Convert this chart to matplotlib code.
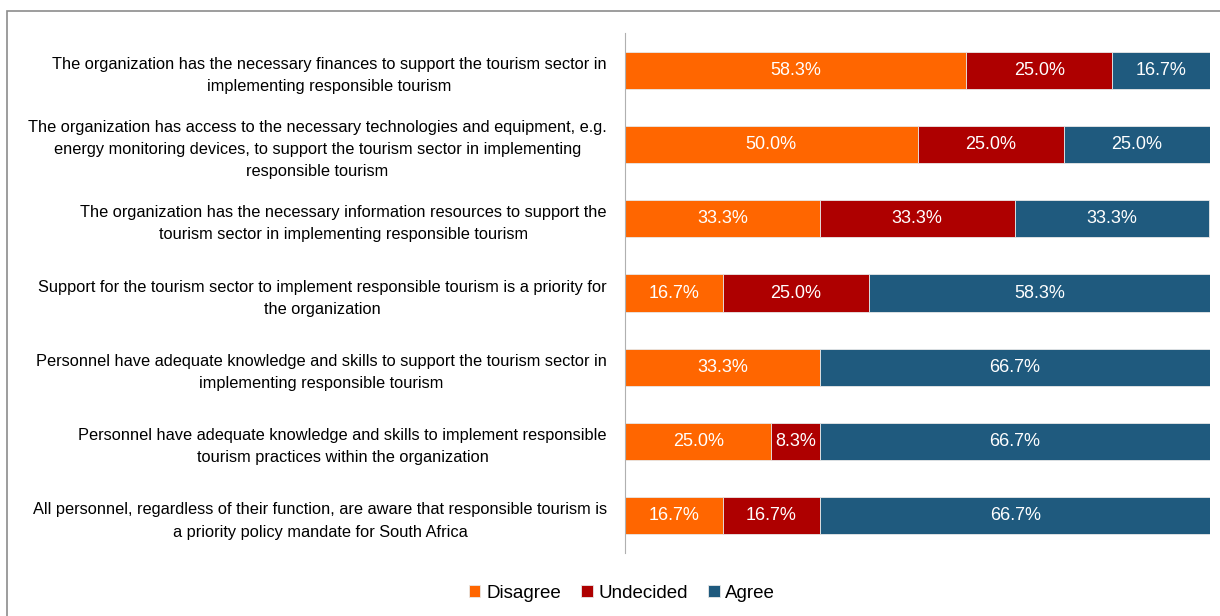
import numpy as np
import matplotlib.pyplot as plt
from matplotlib.patches import Rectangle

plt.rcParams['font.family'] = ['Liberation Sans', 'DejaVu Sans']

# Statements (top to bottom)
statements = [
    "The organization has the necessary finances to support the tourism sector in\nimplementing responsible tourism",
    "The organization has access to the necessary technologies and equipment, e.g.\nenergy monitoring devices, to support the tourism sector in implementing\nresponsible tourism",
    "The organization has the necessary information resources to support the\ntourism sector in implementing responsible tourism",
    "Support for the tourism sector to implement responsible tourism is a priority for\nthe organization",
    "Personnel have adequate knowledge and skills to support the tourism sector in\nimplementing responsible tourism",
    "Personnel have adequate knowledge and skills to implement responsible\ntourism practices within the organization",
    "All personnel, regardless of their function, are aware that responsible tourism is\na priority policy mandate for South Africa",
]

disagree = [58.3, 50.0, 33.3, 16.7, 33.3, 25.0, 16.7]
undecided = [25.0, 25.0, 33.3, 25.0, 0.0, 8.3, 16.7]
agree = [16.7, 25.0, 33.3, 58.3, 66.7, 66.7, 66.7]

series = ["Disagree", "Undecided", "Agree"]
colors = ["#FF6600", "#AE0000", "#1F5A7E"]

fig = plt.figure(figsize=(12.2, 6.16), dpi=100)
ax = fig.add_axes([0.5123, 0.1023, 0.4795, 0.8441])

# outer frame of the chart area
fig.patches.append(Rectangle((7 / 1220, -0.1), 1.1, 1 - 11 / 616 + 0.1,
                             transform=fig.transFigure, fill=False,
                             edgecolor="#8c8c8c", linewidth=1.2))

y = np.arange(len(statements))
left = np.zeros(len(statements))
for name, vals, col in zip(series, [disagree, undecided, agree], colors):
    vals = np.array(vals)
    ax.barh(y, vals, left=left, height=0.5, color=col, label=name,
            edgecolor="#e8e8e8", linewidth=0.6)
    for yi, l, v in zip(y, left, vals):
        if v > 0:
            ax.text(l + v / 2, yi, f"{v:.1f}%", ha="center", va="center",
                    color="white", fontsize=13)
    left += vals

ax.set_xlim(0, 100)
ax.set_ylim(len(statements) - 0.5, -0.5)
ax.set_yticks(y)
ax.set_yticklabels(statements, fontsize=11.8, multialignment="center",
                   linespacing=1.6)
ax.tick_params(axis="y", length=0, pad=13)
ax.set_xticks([])
for s in ["top", "right", "bottom"]:
    ax.spines[s].set_visible(False)
ax.spines["left"].set_color("#b0b0b0")

fig.legend(loc="center", bbox_to_anchor=(0.51, 0.037), ncol=3, frameon=False,
           fontsize=13.5, handlelength=0.6, handleheight=0.6, handletextpad=0.3,
           columnspacing=1.1)

fig.savefig("out.png", dpi=100)
